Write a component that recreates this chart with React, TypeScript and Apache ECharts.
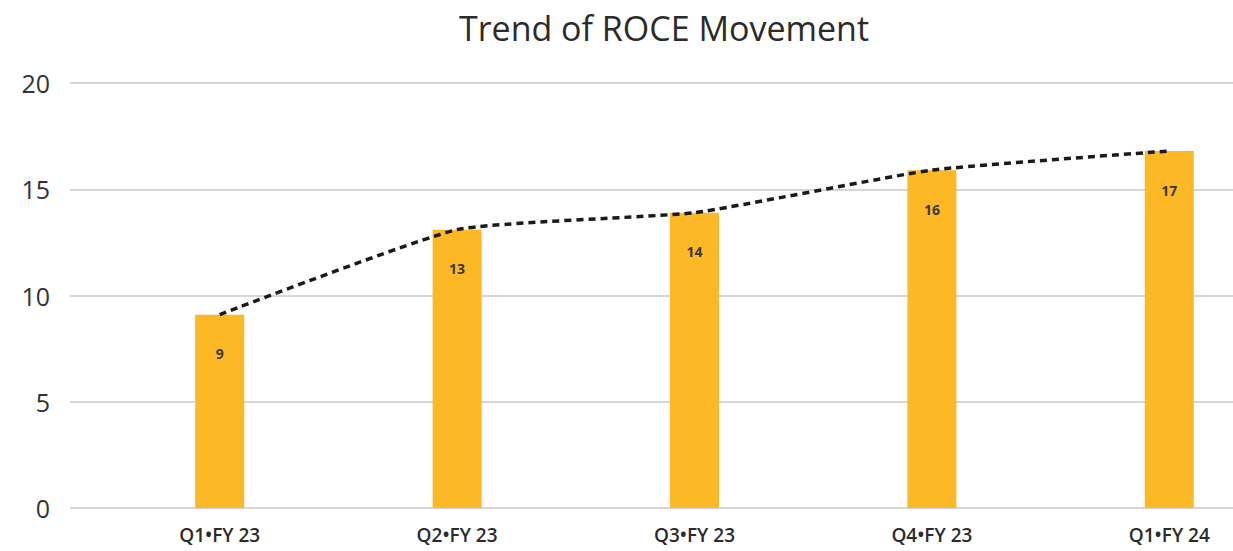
import React, { useEffect, useRef } from "react";
import * as echarts from "echarts";

const categories = ["Q1•FY 23", "Q2•FY 23", "Q3•FY 23", "Q4•FY 23", "Q1•FY 24"];
const roceValues = [9.1, 13.1, 13.9, 15.9, 16.8];
const yTicks = [0, 5, 10, 15, 20];

const FONT = "'Open Sans', 'Noto Sans', sans-serif";

export default function App() {
  const ref = useRef<HTMLDivElement>(null);
  useEffect(() => {
    if (!ref.current) return;
    const chart = echarts.init(ref.current, null, { renderer: "svg" });
    chart.setOption({
      animation: false,
      backgroundColor: "#ffffff",
      title: {
        text: "Trend of ROCE Movement",
        left: 659,
        textAlign: "center",
        top: 6,
        textStyle: { fontFamily: FONT, fontSize: 34, fontWeight: "normal", color: "#2b2b2b" },
      },
      grid: [
        { left: 70, right: 57, top: 83, bottom: 43 },
        { left: 101, right: 2, top: 83, bottom: 43 },
      ],
      xAxis: [
        { type: "category", gridIndex: 0, data: categories, show: false },
        {
          type: "category",
          gridIndex: 1,
          data: categories,
          axisLine: { show: false },
          axisTick: { show: false },
          axisLabel: {
            margin: 17,
            fontFamily: FONT,
            fontSize: 19,
            fontWeight: 600,
            color: "#2b2b2b",
          },
        },
      ],
      yAxis: [
        {
          type: "value",
          gridIndex: 0,
          min: yTicks[0],
          max: yTicks[yTicks.length - 1],
          interval: 5,
          axisLine: { show: false },
          axisTick: { show: false },
          axisLabel: { margin: 20, fontFamily: FONT, fontSize: 25, color: "#333333" },
          splitLine: { lineStyle: { color: "#d6d6d6", width: 2 } },
        },
        {
          type: "value",
          gridIndex: 1,
          min: yTicks[0],
          max: yTicks[yTicks.length - 1],
          interval: 5,
          show: false,
          splitLine: { show: false },
        },
      ],
      series: [
        {
          type: "bar",
          xAxisIndex: 1,
          yAxisIndex: 1,
          data: roceValues,
          barWidth: 49,
          itemStyle: { color: "#FDB825" },
          label: {
            show: true,
            position: "insideTop",
            distance: 32,
            formatter: (p: any) => String(Math.round(p.value)),
            fontFamily: FONT,
            fontSize: 14,
            fontWeight: "bold",
            color: "#3a3a3a",
          },
          z: 2,
        },
        {
          type: "line",
          xAxisIndex: 1,
          yAxisIndex: 1,
          data: roceValues,
          smooth: 0.15,
          symbol: "none",
          lineStyle: { color: "#1a1a1a", width: 3.5, type: [7, 5] },
          z: 3,
        },
      ],
    });
    return () => chart.dispose();
  }, []);
  return (
    <div
      style={{ position: "fixed", left: 0, top: 0, width: 1233, height: 551, overflow: "hidden" }}
    >
      <div ref={ref} style={{ width: 1290, height: 551 }} />
    </div>
  );
}
